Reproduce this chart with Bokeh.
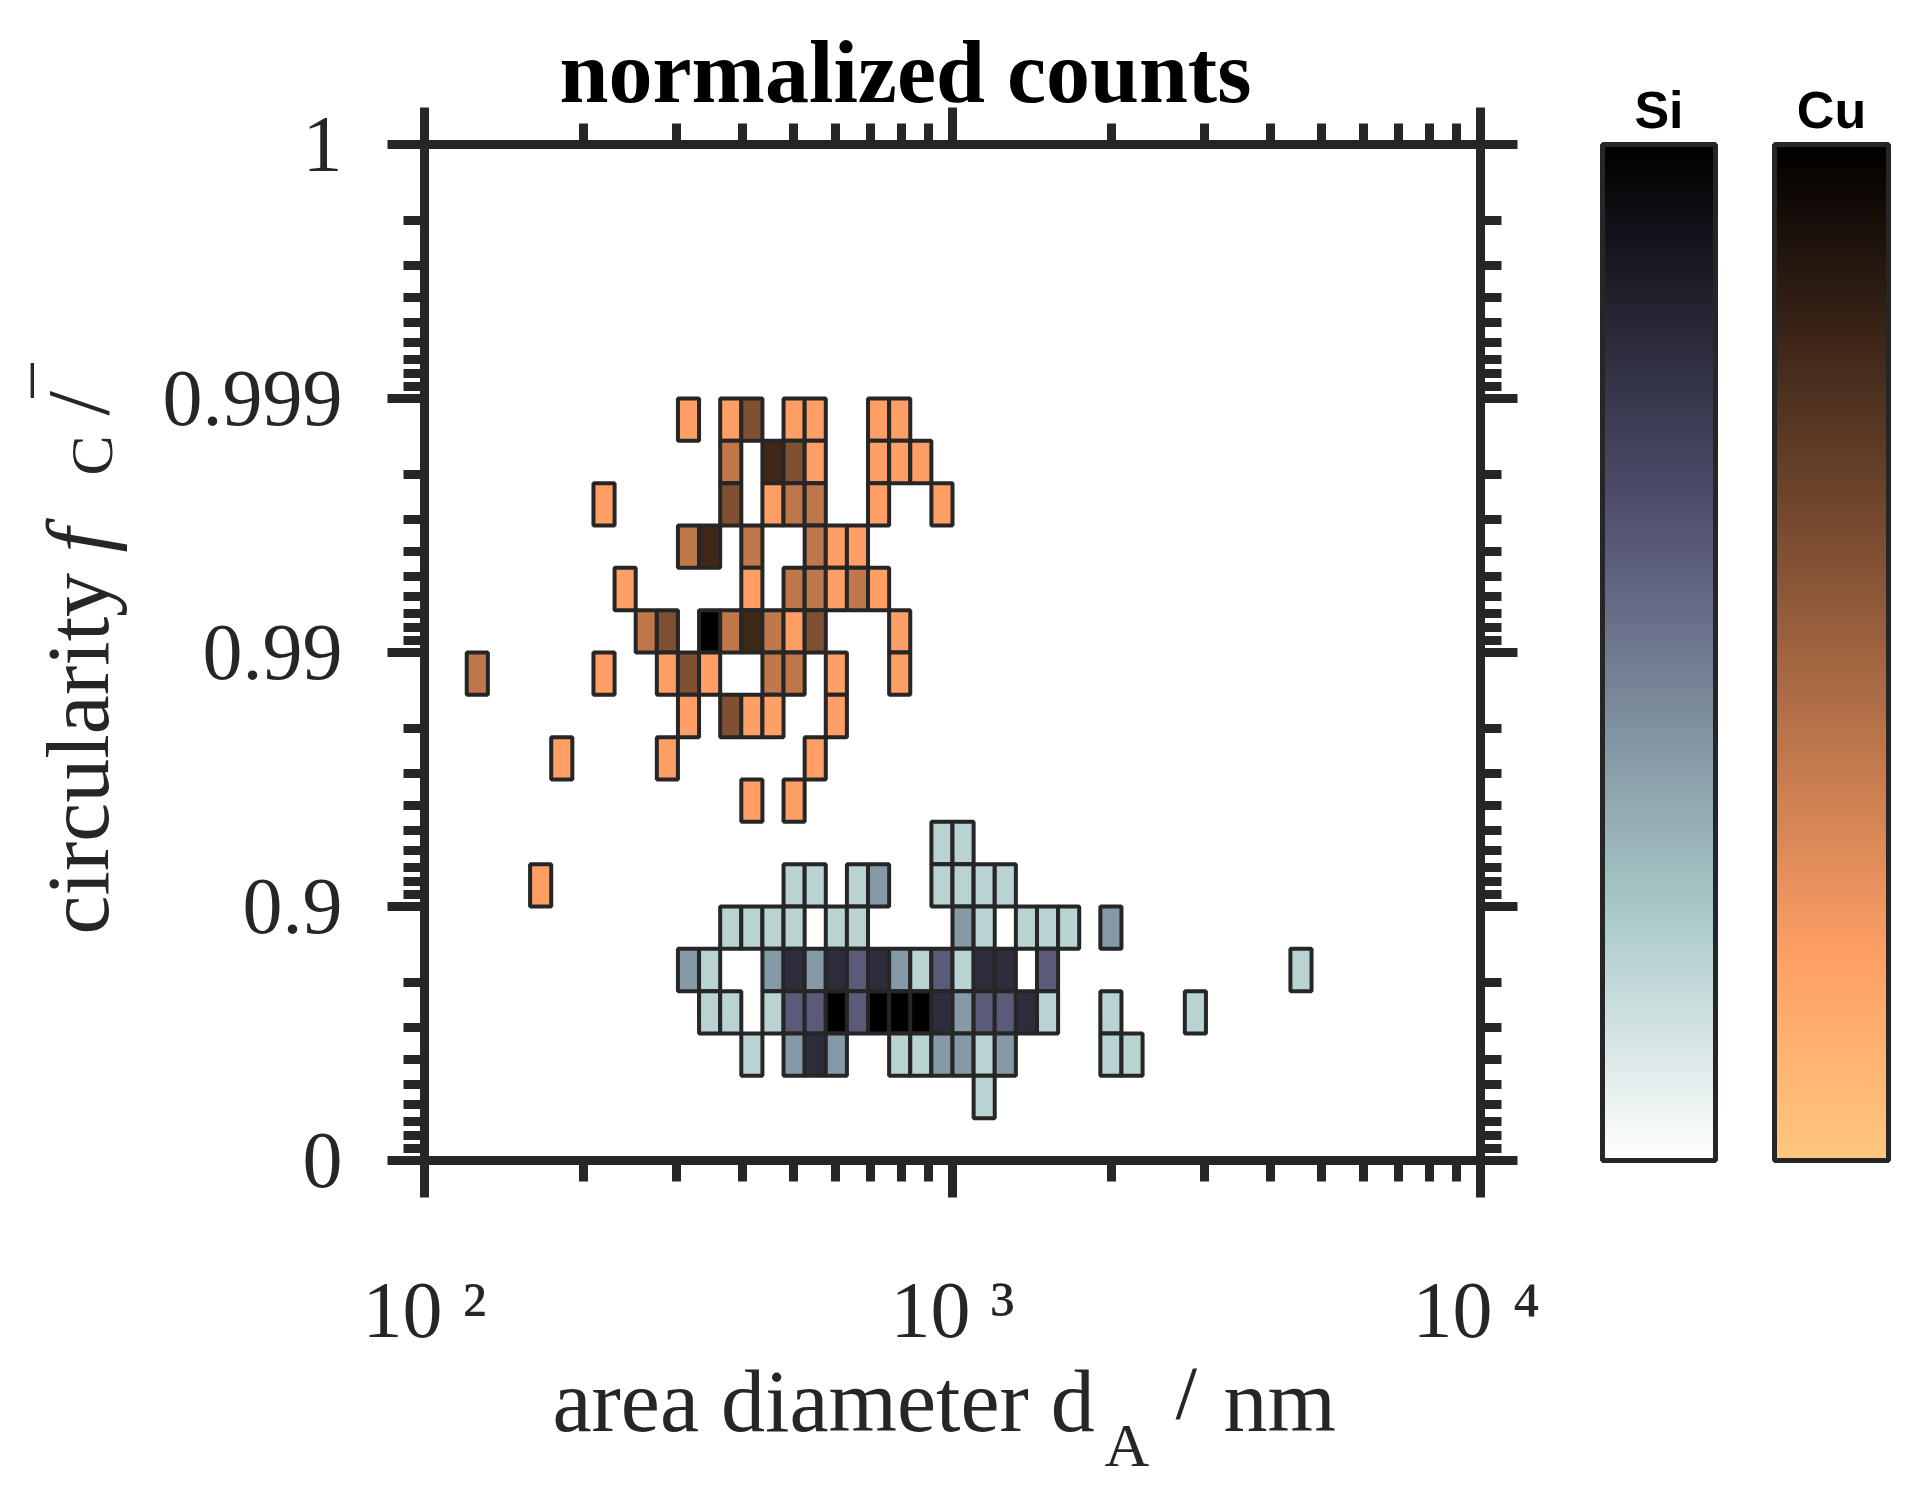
import math
import numpy as np
from bokeh.plotting import figure
from bokeh.layouts import row, column
from bokeh.models import (ColumnDataSource, LinearColorMapper, ColorBar, FixedTicker,
                          LinearAxis, LogAxis, Range1d)
from bokeh.core.properties import value
from bokeh.embed import file_html
from bokeh.resources import INLINE

# ---------------- data ----------------
# 2-D histogram bins: x = log10 bins (25 per decade, starting at 100 nm),
# y = transformed circularity t = -log10(1 - f) (6 bins per unit)
x_first_edge = 100.0
x_bins_per_decade = 25
y_bins_per_unit = 6

# Cu (column index, row index, count)
cu_col = [12, 14, 15, 17, 18, 21, 22,
          14, 16, 17, 18, 21, 22, 23,
          8, 14, 16, 17, 18, 21, 24,
          12, 13, 15, 18, 19, 20,
          9, 15, 17, 18, 19, 20, 21,
          10, 11, 13, 14, 15, 16, 17, 18, 22,
          2, 8, 11, 12, 13, 16, 17, 19, 22,
          12, 14, 15, 16, 19,
          6, 11, 18,
          15, 17,
          5]
cu_row = [17] * 7 + [16] * 7 + [15] * 7 + [14] * 6 + [13] * 7 + [12] * 9 + [11] * 9 + \
         [10] * 5 + [9] * 3 + [8] * 2 + [6]
cu_count = [1, 1, 3, 1, 1, 1, 1,
            2, 4, 3, 1, 1, 1, 1,
            1, 3, 1, 2, 2, 1, 1,
            2, 4, 2, 2, 1, 1,
            1, 1, 2, 2, 1, 2, 1,
            2, 3, 5, 2, 4, 2, 1, 3, 1,
            2, 1, 1, 3, 1, 2, 2, 1, 1,
            1, 3, 1, 1, 1,
            1, 1, 1,
            1, 1,
            1]

# Si (column index, row index, count)
si_col = [24, 25,
          17, 18, 20, 21, 24, 25, 26, 27,
          14, 15, 16, 17, 19, 20, 25, 26, 28, 29, 30, 32,
          12, 13, 16, 17, 18, 19, 20, 21, 22, 23, 24, 25, 26, 27, 29, 41,
          13, 14, 16, 17, 18, 19, 20, 21, 22, 23, 24, 25, 26, 27, 28, 29, 32, 36,
          15, 17, 18, 19, 22, 23, 24, 25, 26, 27, 32, 33,
          26]
si_row = [7] * 2 + [6] * 8 + [5] * 12 + [4] * 16 + [3] * 18 + [2] * 12 + [1]
si_count = [1, 1,
            1, 1, 1, 2, 1, 1, 1, 1,
            1, 1, 1, 1, 1, 1, 2, 1, 1, 1, 1, 2,
            2, 1, 2, 4, 2, 4, 3, 4, 2, 1, 3, 1, 4, 4, 3, 1,
            1, 1, 1, 3, 3, 5, 3, 5, 5, 5, 4, 2, 3, 3, 4, 1, 1, 1,
            1, 2, 4, 2, 1, 1, 2, 2, 1, 2, 1, 1,
            1]

x_major = [100, 1000, 10000]
x_major_labels = ["10 \u00b2", "10 \u00b3", "10 \u2074"]
y_major = [0, 1, 2, 3, 4]
y_major_labels = ["0", "0.9", "0.99", "0.999", "1"]

title_text = "normalized counts"
series_names = ["Si", "Cu"]

# ---------------- helpers ----------------
def bins_to_quads(cols, rows, counts):
    c = np.array(cols, dtype=float)
    r = np.array(rows, dtype=float)
    n = np.array(counts, dtype=float)
    return dict(
        left=x_first_edge * 10 ** (c / x_bins_per_decade),
        right=x_first_edge * 10 ** ((c + 1) / x_bins_per_decade),
        bottom=r / y_bins_per_unit,
        top=(r + 1) / y_bins_per_unit,
        value=n / n.max(),
    )


def bone(v):
    v = np.asarray(v)
    hr = np.clip(v / 0.375, 0, 1)
    hg = np.clip((v - 0.375) / 0.375, 0, 1)
    hb = np.clip((v - 0.75) / 0.25, 0, 1)
    return np.stack([(7 * v + hb) / 8, (7 * v + hg) / 8, (7 * v + hr) / 8], axis=1)


def copper(v):
    v = np.asarray(v)
    return np.stack([np.minimum(1, 1.25 * v), np.minimum(1, 0.7812 * v),
                     np.minimum(1, 0.4975 * v)], axis=1)


def to_hex(rgb):
    return ["#%02x%02x%02x" % tuple(int(round(255 * c)) for c in row) for row in rgb]


levels = np.linspace(0, 1, 256)
si_mapper = LinearColorMapper(palette=to_hex(bone(1 - levels)), low=0, high=1)
cu_mapper = LinearColorMapper(palette=to_hex(copper(1 - levels)), low=0, high=1)

AX = "#262626"
SERIF = "Liberation Serif"


def blank_fig(w, h):
    f = figure(frame_width=w, frame_height=h, x_range=Range1d(0, w),
               y_range=Range1d(0, h), min_border=0, title=None,
               x_axis_location=None, y_axis_location=None,
               output_backend="svg", toolbar_location=None)
    f.outline_line_color = None
    f.xgrid.visible = False
    f.ygrid.visible = False
    return f


def put_text(f, x, y, text, size, style="normal", angle=0.0, font=SERIF, color=AX,
             align="left"):
    f.text(x=[x], y=[y], text=[text], angle=angle,
           text_font=value(font), text_font_size=value(size),
           text_font_style=value(style), text_color=color,
           text_align=value(align), text_baseline=value("alphabetic"))


# ---------------- main plot ----------------
p = figure(frame_width=1056, frame_height=1016,
           min_border_left=284, min_border_right=60,
           min_border_top=38, min_border_bottom=204,
           x_axis_type="log", x_range=Range1d(100, 10000), y_range=Range1d(0, 4),
           output_backend="svg", toolbar_location=None, title=None)
p.outline_line_color = None
p.xgrid.visible = False
p.ygrid.visible = False

x_minor = [m * 10 ** e for e in (2, 3) for m in range(2, 10)]
y_minor = [n + 1 - math.log10(m) for n in range(4) for m in range(2, 10)]


def style_axis(ax, ticks, minor, labels=None):
    ax.ticker = FixedTicker(ticks=ticks, minor_ticks=minor)
    ax.axis_line_color = AX
    ax.axis_line_width = 9
    ax.major_tick_line_color = AX
    ax.major_tick_line_width = 9
    ax.minor_tick_line_color = AX
    ax.minor_tick_line_width = 9
    ax.major_tick_in = 0
    ax.minor_tick_in = 0
    ax.major_tick_out = 37
    ax.minor_tick_out = 21
    ax.major_label_text_font = SERIF
    ax.major_label_text_font_size = "80px"
    ax.major_label_text_color = AX
    if labels is None:
        ax.major_label_text_font_size = "1px"
        ax.major_label_text_alpha = 0
        ax.major_label_standoff = 0
    else:
        ax.major_label_overrides = {t: l for t, l in zip(ticks, labels)}


style_axis(p.xaxis[0], x_major, x_minor, x_major_labels)
p.xaxis[0].major_label_standoff = 68
style_axis(p.yaxis[0], y_major, y_minor, y_major_labels)
p.yaxis[0].major_label_standoff = 45

top_ax = LogAxis()
style_axis(top_ax, x_major, x_minor)
p.add_layout(top_ax, "above")
right_ax = LinearAxis()
style_axis(right_ax, y_major, y_minor)
p.add_layout(right_ax, "right")

cu_src = ColumnDataSource(bins_to_quads(cu_col, cu_row, cu_count))
si_src = ColumnDataSource(bins_to_quads(si_col, si_row, si_count))
for src, mapper in ((cu_src, cu_mapper), (si_src, si_mapper)):
    p.quad(left="left", right="right", bottom="bottom", top="top", source=src,
           fill_color={"field": "value", "transform": mapper},
           line_color=AX, line_width=4)

# ---------------- title / axis titles ----------------
title_fig = blank_fig(1540, 106)
put_text(title_fig, 905, 34, title_text, "88px", style="bold", color="#000000",
         align="center")

ylab_fig = blank_fig(140, 1262)
R = math.pi / 2
put_text(ylab_fig, 78, 472, "circularity", "88px", angle=R)
put_text(ylab_fig, 78, 854, "f", "88px", style="italic", angle=R)
put_text(ylab_fig, 91, 931, "C", "60px", angle=R)
put_text(ylab_fig, 78, 991, "/", "88px", angle=R)
put_text(ylab_fig, 24, 1009, "\u2013", "68px", angle=R)

xlab_fig = blank_fig(1540, 126)
put_text(xlab_fig, 552, 93, "area diameter d", "88px")
put_text(xlab_fig, 1104, 50, "A", "62px")
put_text(xlab_fig, 1175, 106, "/", "88px")
put_text(xlab_fig, 1223, 93, "nm", "88px")

# ---------------- colour bars ----------------
def colorbar_fig(name, mapper, w, left, bar_w):
    f = figure(frame_width=bar_w, frame_height=1016,
               min_border_left=left, min_border_right=w - left - bar_w,
               min_border_top=144, min_border_bottom=330,
               x_range=Range1d(0, 1), y_range=Range1d(0, 1),
               x_axis_location=None, y_axis_location=None,
               output_backend="svg", toolbar_location=None, title=name)
    f.xgrid.visible = False
    f.ygrid.visible = False
    f.outline_line_color = None
    f.title.align = "center"
    f.title.text_font = "Liberation Sans"
    f.title.text_font_size = "52px"
    f.title.text_font_style = "bold"
    f.title.text_color = "#000000"
    f.title.standoff = 11
    cb = ColorBar(color_mapper=mapper, orientation="vertical", location=(0, 0),
                  width=bar_w, height=1016, padding=0, margin=0,
                  ticker=FixedTicker(ticks=[]), label_standoff=0,
                  major_tick_line_color=None, minor_tick_line_color=None,
                  bar_line_color=AX, bar_line_width=5,
                  border_line_color=None, background_fill_color=None)
    f.add_layout(cb)
    return f


cb_si = colorbar_fig(series_names[0], si_mapper, 190, 62, 113)
cb_cu = colorbar_fig(series_names[1], cu_mapper, 178, 44, 114)

left_part = column(title_fig, row(ylab_fig, p, spacing=0), xlab_fig, spacing=0)
layout = row(left_part, cb_si, cb_cu, spacing=0)

open("out.html", "w").write(file_html(layout, INLINE))
